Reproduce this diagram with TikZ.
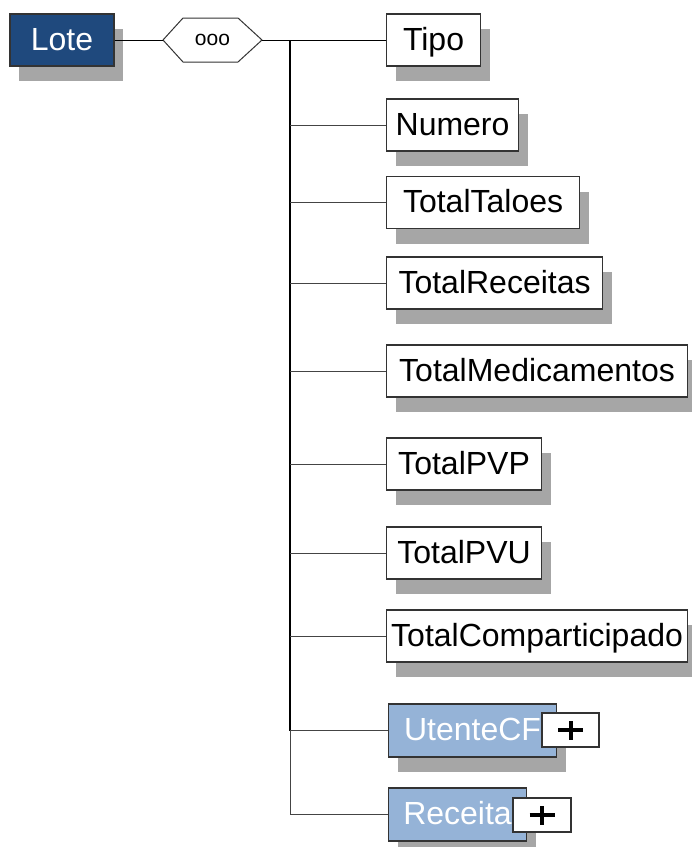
\documentclass[tikz,border=0pt]{standalone}
\usepackage{fontspec}
\setmainfont{Liberation Sans}
\usetikzlibrary{shadows}
\definecolor{darkblue}{HTML}{1F497D}
\definecolor{lightblue}{HTML}{95B3D7}
\definecolor{shgray}{HTML}{A6A6A6}
\definecolor{edge}{HTML}{333333}
\definecolor{branch}{HTML}{444444}
\tikzset{
  elem/.style={draw=edge, line width=1.1pt, fill=white, inner sep=0pt, anchor=west,
    minimum height=52pt, text height=22pt, text depth=2pt,
    font=\fontsize{32}{32}\selectfont,
    drop shadow={shadow xshift=9pt, shadow yshift=-15pt, fill=shgray, opacity=1, draw=none}},
  cplx/.style={elem, fill=lightblue, text=white, minimum height=53pt},
  plusbox/.style={draw=edge, line width=1.1pt, fill=white, inner sep=0pt, minimum height=34pt},
  conn/.style={line width=1pt, black},
  br/.style={line width=1pt, branch},
  plusline/.style={line width=4pt, black}
}
\begin{document}
\begin{tikzpicture}[x=1pt, y=-1pt]
\useasboundingbox (0,0) rectangle (692,847);
% root
\node[elem, fill=darkblue, text=white, anchor=center, minimum width=104pt] (lote) at (62,40) {Lote};
% hexagon
\coordinate (hexL) at (163,40);
\coordinate (hexR) at (262,40);
\draw[draw=edge, line width=1pt, fill=white] (hexL) -- (183,18) -- (238,18) -- (hexR) -- (238,62) -- (183,62) -- cycle;
\node[inner sep=0pt, font=\fontsize{21}{21}\selectfont] (seq) at (212.5,40) {ooo};
\coordinate (top) at (290,40);
\draw[conn] (lote.east) -- (hexL);
\draw[conn] (hexR) -- (top);
% children
\node[elem, minimum width=94pt] (tipo) at (386,40) {Tipo};
\node[elem, minimum width=132pt] (numero) at (386,125) {Numero};
\node[elem, minimum width=193pt] (taloes) at (386,202.5) {TotalTaloes};
\node[elem, minimum width=216pt] (receitas) at (386,283) {TotalReceitas};
\node[elem, minimum width=301pt] (medic) at (386,371) {TotalMedicamentos};
\node[elem, minimum width=155pt] (pvp) at (386,464) {TotalPVP};
\node[elem, minimum width=155pt] (pvu) at (386,553) {TotalPVU};
\node[elem, minimum width=301pt] (compart) at (386,636) {TotalComparticipado};
\node[cplx, minimum width=168pt] (utente) at (388,730.5) {UtenteCF};
\node[cplx, minimum width=138pt] (receita) at (388,814.5) {Receita};
% plus boxes
\node[plusbox, minimum width=57pt] (plusU) at (570.5,730) {};
\node[plusbox, minimum width=58pt] (plusR) at (542,815) {};
\draw[plusline] ([xshift=-12.5pt]plusU.center) -- ([xshift=12.5pt]plusU.center);
\draw[plusline] ([yshift=-9.5pt]plusU.center) -- ([yshift=9.5pt]plusU.center);
\draw[plusline] ([xshift=-12.5pt]plusR.center) -- ([xshift=12.5pt]plusR.center);
\draw[plusline] ([yshift=-9.5pt]plusR.center) -- ([yshift=9.5pt]plusR.center);
% tree connectors
\coordinate (vU) at (290,730.5);
\coordinate (vR) at (290,814.5);
\draw[line width=1.6pt, black] (top) -- (vU);
\draw[br] (vU) -- (vR);
\draw[conn] (top) -- (tipo.west);
\foreach \n in {numero,taloes,receitas,medic,pvp,pvu,compart,utente,receita}
  \draw[br] (290,0 |- \n.west) -- (\n.west);
\end{tikzpicture}
\end{document}
